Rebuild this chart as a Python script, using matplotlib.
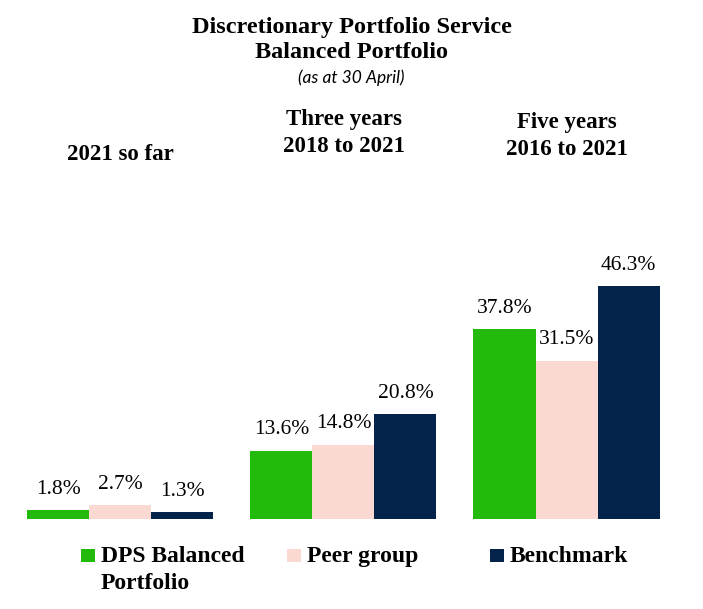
import matplotlib
matplotlib.use('Agg')
import matplotlib.pyplot as plt
from matplotlib.patches import Rectangle

# data
periods = ['2021 so far', 'Three years\n2018 to 2021', 'Five years\n2016 to 2021']
series = ['DPS Balanced\nPortfolio', 'Peer group', 'Benchmark']
values = [
    [1.8, 13.6, 37.8],   # DPS Balanced Portfolio
    [2.7, 14.8, 31.5],   # Peer group
    [1.3, 20.8, 46.3],   # Benchmark
]
colors = ['#22BB0B', '#FAD9D2', '#03234A']

W, H = 703, 609
fig = plt.figure(figsize=(W / 100, H / 100), dpi=100)
SERIF = 'Liberation Serif'


def fy(py):
    # pixel row (from top) -> figure fraction
    return 1 - py / H


def fx(px):
    return px / W


ax = fig.add_axes([0, fy(519), 1, fy(267.5) - fy(519)])
bw = 0.278
for i, (name, vals, col) in enumerate(zip(series, values, colors)):
    xs = [g + (i - 1) * bw for g in range(len(periods))]
    bars = ax.bar(xs, vals, width=bw, color=col, edgecolor='none')
    for b, v in zip(bars, vals):
        ax.annotate(f'{v:.1f}%', (b.get_x() + b.get_width() / 2, v),
                    xytext=(0, 8), textcoords='offset points',
                    ha='center', va='bottom', fontsize=15.5, family=SERIF)

ax.set_xlim(-0.54, 2.612)
ax.set_ylim(0, 50)
ax.axis('off')

# titles
fig.text(0.5, fy(28), 'Discretionary Portfolio Service', ha='center', va='center',
         fontsize=17.5, fontweight='bold', family=SERIF)
fig.text(0.5, fy(52), 'Balanced Portfolio', ha='center', va='center',
         fontsize=17.5, fontweight='bold', family=SERIF)
fig.text(0.5, fy(78), '(as at 30 April)', ha='center', va='center',
         fontsize=12.5, style='italic', family='Lato')

# period headers
hdr_y = [154, 133, 136]
for g, (lab, py) in enumerate(zip(periods, hdr_y)):
    xd = ax.transData.transform((g, 0))[0]
    xd = fig.transFigure.inverted().transform((xd, 0))[0]
    fig.text(xd, fy(py), lab, ha='center', va='center', fontsize=16.5,
             fontweight='bold', family=SERIF, linespacing=1.38)

# legend (drawn by hand so the square sits on the first line)
leg_x = [81, 287, 490]
for name, col, px in zip(series, colors, leg_x):
    fig.patches.append(Rectangle((fx(px), fy(562)), 14 / W, 13 / H,
                                 transform=fig.transFigure, facecolor=col,
                                 edgecolor='none'))
    fig.text(fx(px + 20), fy(546), name, ha='left', va='top', fontsize=17,
             fontweight='bold', family=SERIF, linespacing=1.37)

fig.savefig('out.png', dpi=100)
